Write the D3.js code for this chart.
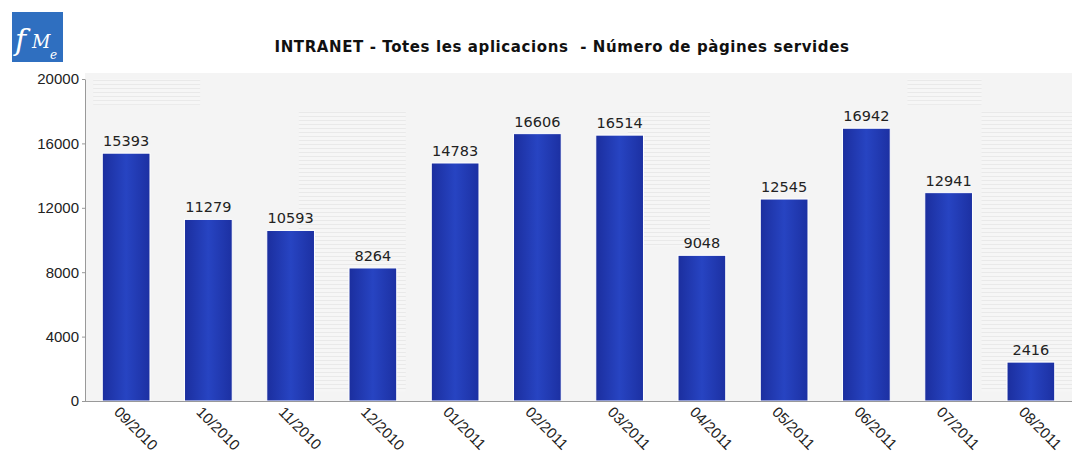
<!DOCTYPE html>
<html>
<head>
<meta charset="utf-8">
<script src="https://cdn.jsdelivr.net/npm/d3@7/dist/d3.min.js"></script>
<style>
	body { margin: 0; background: #fff; }
	svg { display: block; font-family: "DejaVu Sans", sans-serif; }
	.axis path, .axis line { stroke: #999; }
	.axis text { font-size: 14px; fill: #222; }
</style>
</head>
<body>
<svg id="chart" width="1076" height="471"></svg>
<script>
const months = ["09/2010", "10/2010", "11/2010", "12/2010", "01/2011", "02/2011", "03/2011", "04/2011", "05/2011", "06/2011", "07/2011", "08/2011"];
const pages = [15393, 11279, 10593, 8264, 14783, 16606, 16514, 9048, 12545, 16942, 12941, 2416];
const yTicks = [0, 4000, 8000, 12000, 16000, 20000];

const Width = 1076;
const Height = 471;
const margin = { top: 79, right: 4, bottom: 70, left: 85 };

const svg = d3.select("#chart");
const defs = svg.append("defs");

// bar gradient: darker edges, lighter middle
const grad = defs.append("linearGradient").attr("id", "bargrad").attr("x1", 0).attr("x2", 1).attr("y1", 0).attr("y2", 0);
grad.append("stop").attr("offset", 0).attr("stop-color", "#1b2e9e");
grad.append("stop").attr("offset", 0.5).attr("stop-color", "#2744c2");
grad.append("stop").attr("offset", 1).attr("stop-color", "#1c30a2");

// faint horizontal stripes seen in parts of the background
const pat = defs.append("pattern").attr("id", "stripes").attr("patternUnits", "userSpaceOnUse").attr("width", 8).attr("height", 4);
pat.append("rect").attr("width", 8).attr("height", 4).attr("fill", "#f6f6f6");
pat.append("rect").attr("width", 8).attr("height", 1).attr("fill", "#e6e6e6");

const x = d3.scaleBand().domain(months)
	.range([margin.left, Width - margin.right]).paddingInner(0.42).paddingOuter(0.21);
const y = d3.scaleLinear().domain([0, 20000]).range([Height - margin.bottom, margin.top]);

// plot background
svg.append("rect").attr("x", margin.left).attr("y", margin.top - 6)
	.attr("width", Width - margin.right - margin.left).attr("height", y(0) - margin.top + 6)
	.attr("fill", "#f4f4f4");
const step = x.step();
const stripeBands = [
	{ from: 0.1, to: 1.4, top: 20000, bottom: 18400 },
	{ from: 2.6, to: 3.9, top: 18000, bottom: 600 },
	{ from: 6.6, to: 7.6, top: 18000, bottom: 9600 },
	{ from: 10.0, to: 10.9, top: 20000, bottom: 18400 },
	{ from: 10.9, to: 12.0, top: 18000, bottom: 600 }
];
svg.append("g").selectAll("rect").data(stripeBands).enter().append("rect")
	.attr("x", d => x.range()[0] + d.from * step)
	.attr("width", d => (d.to - d.from) * step)
	.attr("y", d => y(d.top))
	.attr("height", d => y(d.bottom) - y(d.top))
	.attr("fill", "url(#stripes)").attr("opacity", 0.8);

// logo
const logo = svg.append("g").attr("transform", "translate(12,12)");
logo.append("rect").attr("width", 51).attr("height", 50).attr("fill", "#2f6fc0");
logo.append("text").attr("x", 3).attr("y", 38).attr("font-family", "DejaVu Serif").attr("font-style", "italic")
	.attr("fill", "#fff").attr("font-size", 30).text("f");
logo.append("text").attr("x", 20).attr("y", 36).attr("font-family", "DejaVu Serif").attr("font-style", "italic")
	.attr("fill", "#fff").attr("font-size", 18).text("M");
logo.append("text").attr("x", 38).attr("y", 47).attr("font-family", "DejaVu Serif").attr("font-style", "italic")
	.attr("fill", "#fff").attr("font-size", 12).text("e");

// title
svg.append("text").attr("x", 562).attr("y", 52).attr("text-anchor", "middle")
	.attr("font-size", 15).attr("font-weight", "bold").attr("fill", "#111")
	.attr("letter-spacing", 0.6).attr("xml:space", "preserve")
	.text("INTRANET - Totes les aplicacions  - Número de pàgines servides");

// bars
const bars = svg.append("g").attr("class", "bars");
bars.selectAll("rect").data(pages).enter().append("rect")
	.attr("x", (d, i) => x(months[i]))
	.attr("width", x.bandwidth())
	.attr("y", d => y(d))
	.attr("height", d => y(0) - y(d))
	.attr("fill", "url(#bargrad)")
	.attr("stroke", "#ffffff").attr("stroke-width", 1);

// value labels
svg.append("g").selectAll("text").data(pages).enter().append("text")
	.attr("x", (d, i) => x(months[i]) + x.bandwidth() / 2)
	.attr("y", d => y(d) - 7)
	.attr("text-anchor", "middle").attr("font-size", 14.5).attr("fill", "#222")
	.text(d => d);

// y axis
const yaxis = svg.append("g").attr("class", "axis y").attr("transform", `translate(${margin.left},0)`)
	.call(d3.axisLeft(y).tickValues(yTicks).tickSize(3).tickSizeOuter(0).tickFormat(d3.format("d")));
yaxis.selectAll("text").attr("x", -6).style("font-size", "15px");

// x axis
const xaxis = svg.append("g").attr("class", "axis x").attr("transform", `translate(0,${y(0)})`)
	.call(d3.axisBottom(x).tickSize(0).tickSizeOuter(0));
xaxis.select(".domain").attr("d", `M${margin.left},0.5H${Width - margin.right}`);
xaxis.selectAll("text")
	.attr("text-anchor", "start")
	.attr("dy", 0).attr("y", 0)
	.style("font-size", "15px")
	.attr("transform", "translate(-13,12) rotate(45)");
</script>
</body>
</html>
